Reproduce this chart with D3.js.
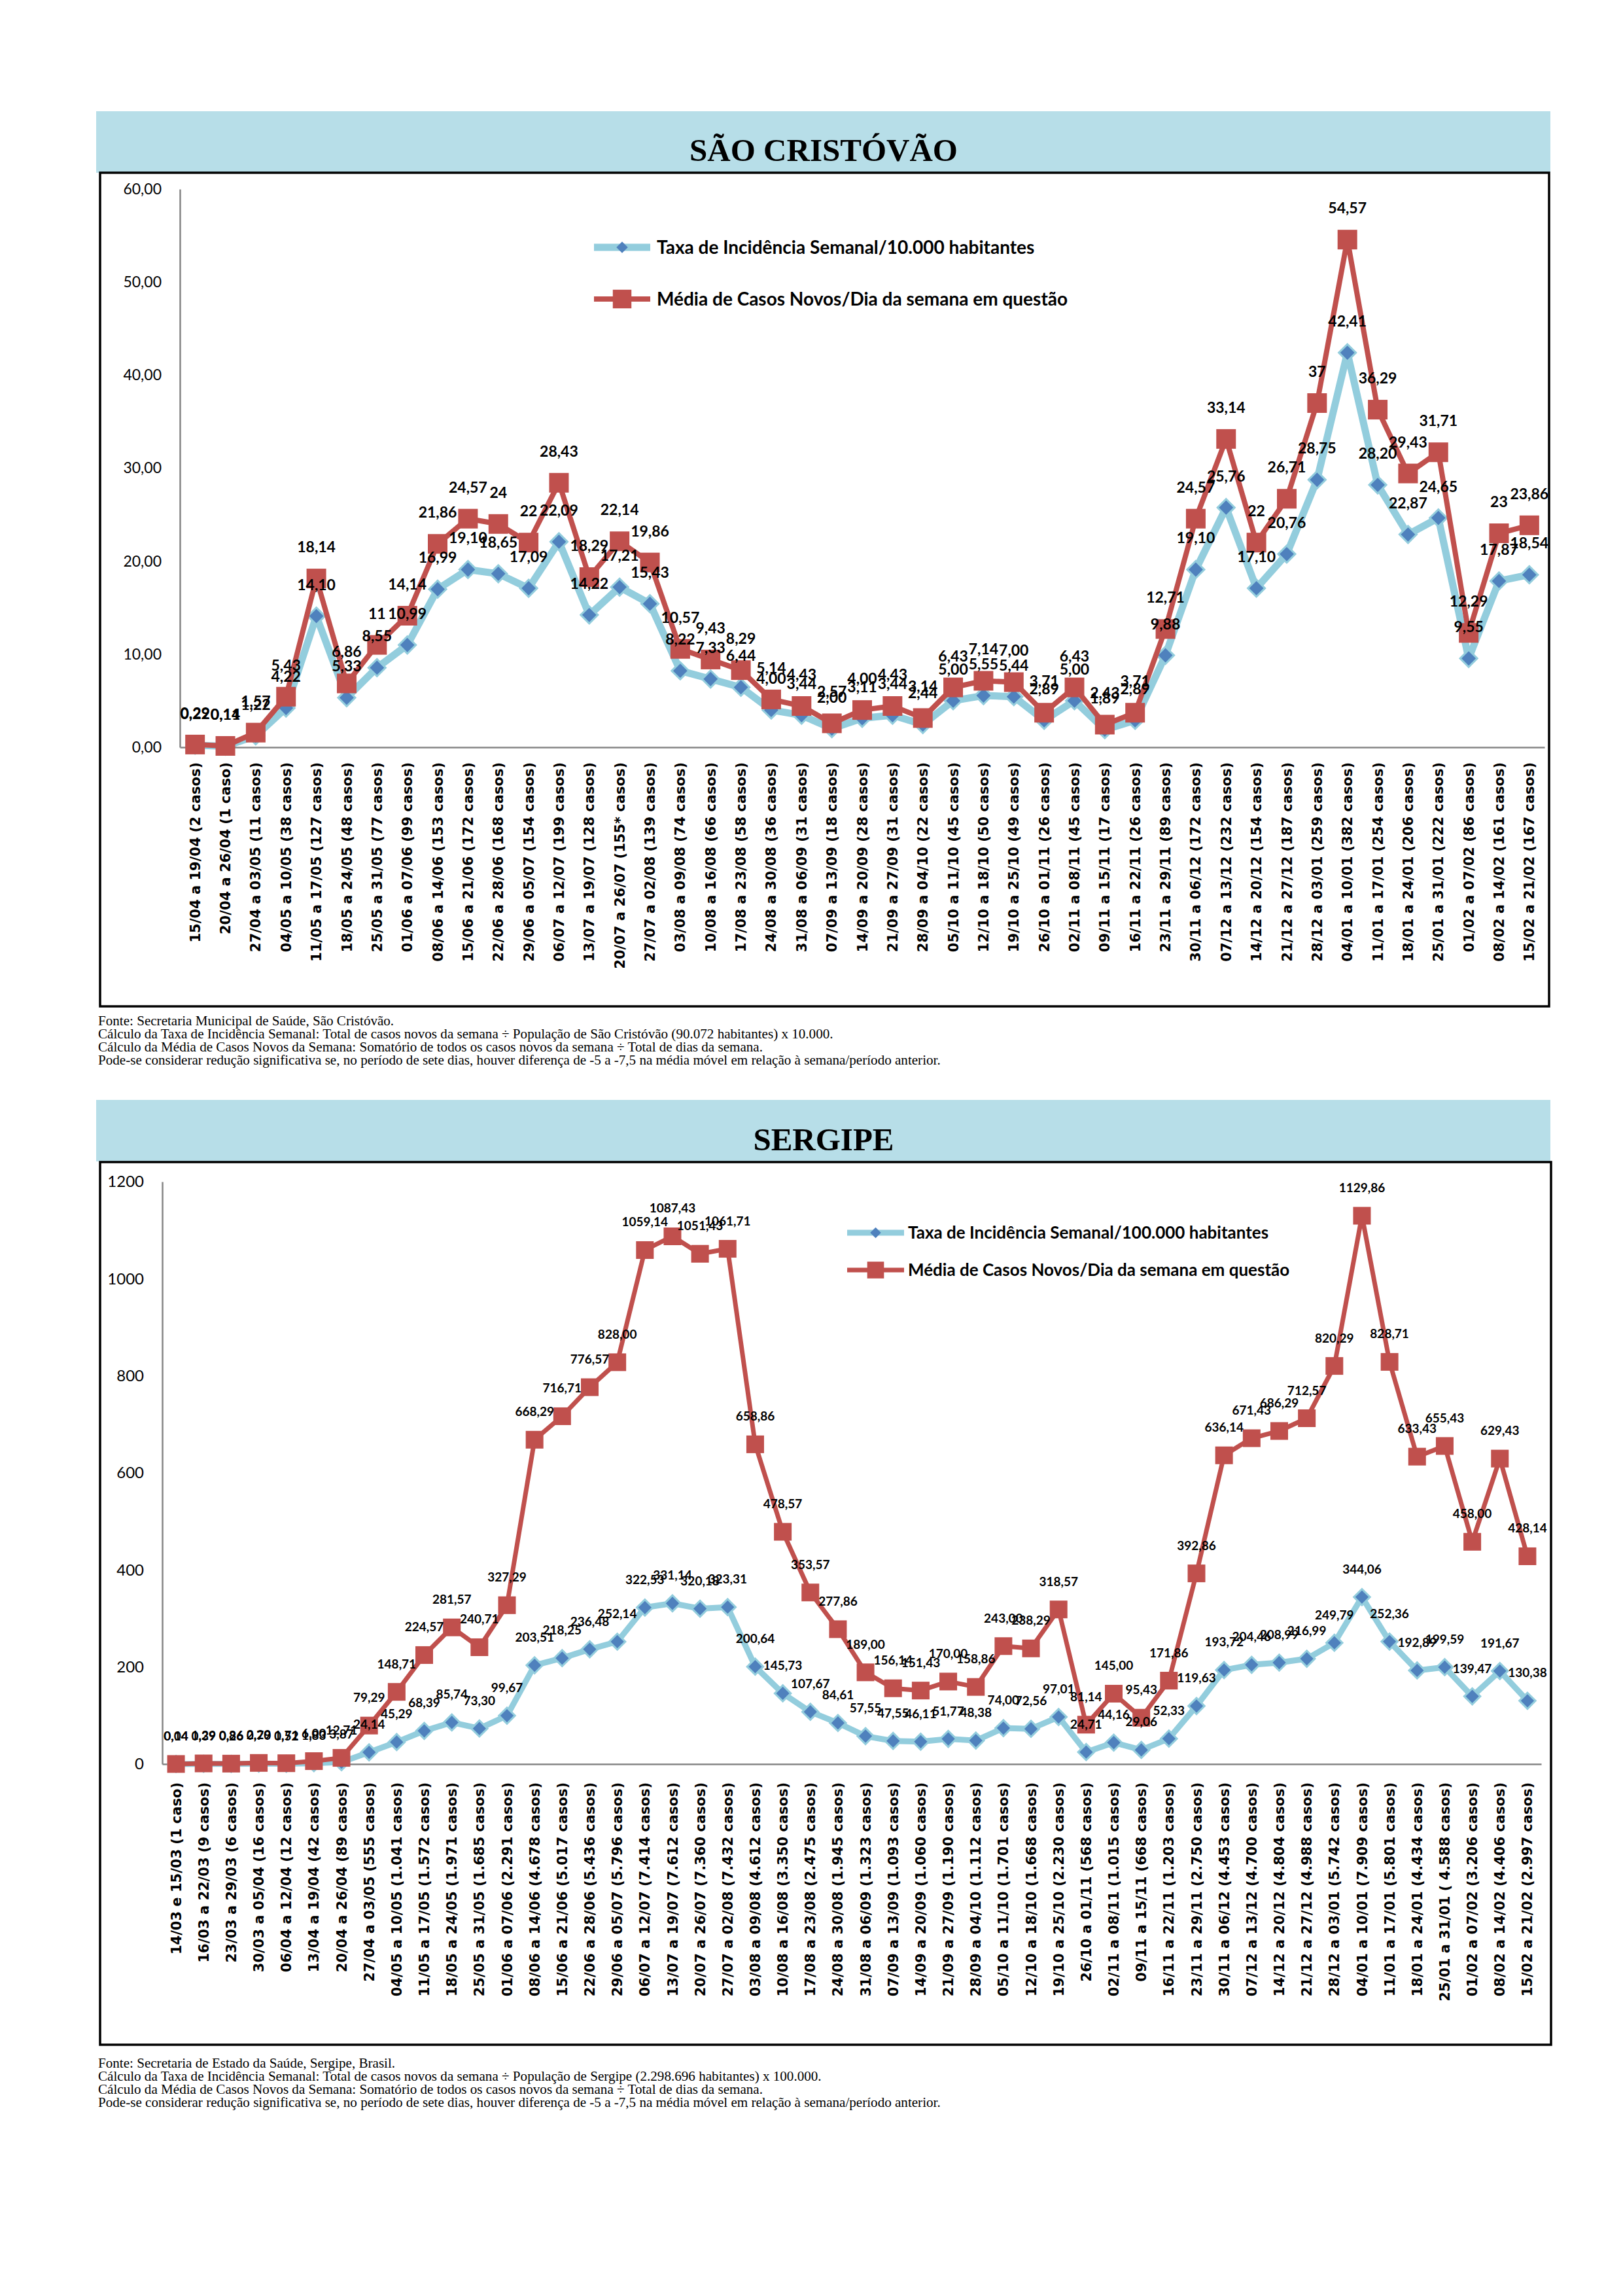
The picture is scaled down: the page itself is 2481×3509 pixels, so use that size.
<!DOCTYPE html>
<html>
<head>
<meta charset="utf-8">
<script src="https://cdnjs.cloudflare.com/ajax/libs/d3/7.8.5/d3.min.js"></script>
<style>
  html, body { margin: 0; padding: 0; background: #fff; }
</style>
</head>
<body>
<div class="container"></div>
<script>
// ---- São Cristóvão ----
const catSC = ["15/04 a 19/04 (2 casos)", "20/04 a 26/04 (1 caso)", "27/04 a 03/05 (11 casos)", "04/05 a 10/05 (38 casos)",
  "11/05 a 17/05 (127 casos)", "18/05 a 24/05 (48 casos)", "25/05 a 31/05 (77 casos)", "01/06 a 07/06 (99 casos)",
  "08/06 a 14/06 (153 casos)", "15/06 a 21/06 (172 casos)", "22/06 a 28/06 (168 casos)", "29/06 a 05/07 (154 casos)",
  "06/07 a 12/07 (199 casos)", "13/07 a 19/07 (128 casos)", "20/07 a 26/07 (155* casos)", "27/07 a 02/08 (139 casos)",
  "03/08 a 09/08 (74 casos)", "10/08 a 16/08 (66 casos)", "17/08 a 23/08 (58 casos)", "24/08 a 30/08 (36 casos)",
  "31/08 a 06/09 (31 casos)", "07/09 a 13/09 (18 casos)", "14/09 a 20/09 (28 casos)", "21/09 a 27/09 (31 casos)",
  "28/09 a 04/10 (22 casos)", "05/10 a 11/10 (45 casos)", "12/10 a 18/10 (50 casos)", "19/10 a 25/10 (49 casos)",
  "26/10 a 01/11 (26 casos)", "02/11 a 08/11 (45 casos)", "09/11 a 15/11 (17 casos)", "16/11 a 22/11 (26 casos)",
  "23/11 a 29/11 (89 casos)", "30/11 a 06/12 (172 casos)", "07/12 a 13/12 (232 casos)", "14/12 a 20/12 (154 casos)",
  "21/12 a 27/12 (187 casos)", "28/12 a 03/01 (259 casos)", "04/01 a 10/01 (382 casos)", "11/01 a 17/01 (254 casos)",
  "18/01 a 24/01 (206 casos)", "25/01 a 31/01 (222 casos)", "01/02 a 07/02 (86 casos)", "08/02 a 14/02 (161 casos)",
  "15/02 a 21/02 (167 casos)"];
const taxaSC = [0.22, 0.11, 1.22, 4.22, 14.10, 5.33, 8.55, 10.99, 16.99, 19.10, 18.65, 17.09, 22.09, 14.22, 17.21, 15.43,
  8.22, 7.33, 6.44, 4.00, 3.44, 2.00, 3.11, 3.44, 2.44, 5.00, 5.55, 5.44, 2.89, 5.00, 1.89, 2.89, 9.88, 19.10, 25.76,
  17.10, 20.76, 28.75, 42.41, 28.20, 22.87, 24.65, 9.55, 17.87, 18.54];
// rótulos como aparecem no gráfico (alguns sem casas decimais)
const mediaSC = ["0,29", "0,14", "1,57", "5,43", "18,14", "6,86", "11", "14,14", "21,86", "24,57", "24", "22", "28,43",
  "18,29", "22,14", "19,86", "10,57", "9,43", "8,29", "5,14", "4,43", "2,57", "4,00", "4,43", "3,14", "6,43", "7,14",
  "7,00", "3,71", "6,43", "2,43", "3,71", "12,71", "24,57", "33,14", "22", "26,71", "37", "54,57", "36,29", "29,43",
  "31,71", "12,29", "23", "23,86"];
const ticksSC = [0, 10, 20, 30, 40, 50, 60];

// ---- Sergipe ----
const catSE = ["14/03 e 15/03 (1 caso)", "16/03 a 22/03 (9 casos)", "23/03 a 29/03 (6 casos)", "30/03 a 05/04 (16 casos)",
  "06/04 a 12/04 (12 casos)", "13/04 a 19/04 (42 casos)", "20/04 a 26/04 (89 casos)", "27/04 a 03/05 (555 casos)",
  "04/05 a 10/05 (1.041 casos)", "11/05 a 17/05 (1.572 casos)", "18/05 a 24/05 (1.971 casos)", "25/05 a 31/05 (1.685 casos)",
  "01/06 a 07/06 (2.291 casos)", "08/06 a 14/06 (4.678 casos)", "15/06 a 21/06 (5.017 casos)", "22/06 a 28/06 (5.436 casos)",
  "29/06 a 05/07 (5.796 casos)", "06/07 a 12/07 (7.414 casos)", "13/07 a 19/07 (7.612 casos)", "20/07 a 26/07 (7.360 casos)",
  "27/07 a 02/08 (7.432 casos)", "03/08 a 09/08 (4.612 casos)", "10/08 a 16/08 (3.350 casos)", "17/08 a 23/08 (2.475 casos)",
  "24/08 a 30/08 (1.945 casos)", "31/08 a 06/09 (1.323 casos)", "07/09 a 13/09 (1.093 casos)", "14/09 a 20/09 (1.060 casos)",
  "21/09 a 27/09 (1.190 casos)", "28/09 a 04/10 (1.112 casos)", "05/10 a 11/10 (1.701 casos)", "12/10 a 18/10 (1.668 casos)",
  "19/10 a 25/10 (2.230 casos)", "26/10 a 01/11 (568 casos)", "02/11 a 08/11 (1.015 casos)", "09/11 a 15/11 (668 casos)",
  "16/11 a 22/11 (1.203 casos)", "23/11 a 29/11 (2.750 casos)", "30/11 a 06/12 (4.453 casos)", "07/12 a 13/12 (4.700 casos)",
  "14/12 a 20/12 (4.804 casos)", "21/12 a 27/12 (4.988 casos)", "28/12 a 03/01 (5.742 casos)", "04/01 a 10/01 (7.909 casos)",
  "11/01 a 17/01 (5.801 casos)", "18/01 a 24/01 (4.434 casos)", "25/01 a 31/01 ( 4.588 casos)", "01/02 a 07/02 (3.206 casos)",
  "08/02 a 14/02 (4.406 casos)", "15/02 a 21/02 (2.997 casos)"];
const taxaSE = [0.04, 0.39, 0.26, 0.70, 0.52, 1.83, 3.87, 24.14, 45.29, 68.39, 85.74, 73.30, 99.67, 203.51, 218.25, 236.48,
  252.14, 322.53, 331.14, 320.18, 323.31, 200.64, 145.73, 107.67, 84.61, 57.55, 47.55, 46.11, 51.77, 48.38, 74.00, 72.56,
  97.01, 24.71, 44.16, 29.06, 52.33, 119.63, 193.72, 204.46, 208.99, 216.99, 249.79, 344.06, 252.36, 192.89, 199.59,
  139.47, 191.67, 130.38];
const mediaSE = [0.14, 1.29, 0.86, 2.29, 1.71, 6.00, 12.71, 79.29, 148.71, 224.57, 281.57, 240.71, 327.29, 668.29, 716.71,
  776.57, 828.00, 1059.14, 1087.43, 1051.43, 1061.71, 658.86, 478.57, 353.57, 277.86, 189.00, 156.14, 151.43, 170.00,
  158.86, 243.00, 238.29, 318.57, 81.14, 145.00, 95.43, 171.86, 392.86, 636.14, 671.43, 686.29, 712.57, 820.29, 1129.86,
  828.71, 633.43, 655.43, 458.00, 629.43, 428.14];
const ticksSE = [0, 200, 400, 600, 800, 1000, 1200];

const notasSC = ["Fonte: Secretaria Municipal de Saúde, São Cristóvão.",
  "Cálculo da Taxa de Incidência Semanal: Total de casos novos da semana ÷ População de São Cristóvão (90.072 habitantes) x 10.000.",
  "Cálculo da Média de Casos Novos da Semana: Somatório de todos os casos novos da semana ÷ Total de dias da semana.",
  "Pode-se considerar redução significativa se, no período de sete dias, houver diferença de -5 a -7,5 na média móvel em relação à semana/período anterior."];
const notasSE = ["Fonte: Secretaria de Estado da Saúde, Sergipe, Brasil.",
  "Cálculo da Taxa de Incidência Semanal: Total de casos novos da semana ÷ População de Sergipe (2.298.696 habitantes) x 100.000.",
  "Cálculo da Média de Casos Novos da Semana: Somatório de todos os casos novos da semana ÷ Total de dias da semana.",
  "Pode-se considerar redução significativa se, no período de sete dias, houver diferença de -5 a -7,5 na média móvel em relação à semana/período anterior."];

const width = 2481, height = 3509;
const AZUL_LINHA = "#93cddd", AZUL = "#4f81bd", VERMELHO = "#c0504d";
const CALIBRI = "Lato, 'Open Sans', sans-serif";

const ptBR = d3.formatLocale({ decimal: ",", thousands: ".", grouping: [3], currency: ["R$ ", ""] });
const f2 = ptBR.format(".2f");
const lerNum = s => +s.replace(",", ".");

let svg = d3.select(".container")
  .append("svg")
  .attr("width", width)
  .attr("height", height)
  .attr("viewBox", [0, 0, width, height])
  .style("display", "block");

svg.append("rect").attr("width", width).attr("height", height).attr("fill", "#fff");

function painel(c) {
  const g = svg.append("g");

  // faixa do título
  g.append("rect").attr("x", 147).attr("y", c.faixa[0])
    .attr("width", 2223).attr("height", c.faixa[1] - c.faixa[0]).attr("fill", "#b7dee8");
  g.append("text").attr("x", 1259).attr("y", c.tituloY).attr("text-anchor", "middle")
    .attr("font-family", "'Liberation Serif', 'Times New Roman', serif")
    .attr("font-weight", "bold").attr("font-size", 49).text(c.titulo);

  // caixa do gráfico
  g.append("rect").attr("x", 153).attr("y", c.caixa[0])
    .attr("width", c.caixa[2] - 153).attr("height", c.caixa[1] - c.caixa[0])
    .attr("fill", "none").attr("stroke", "#000").attr("stroke-width", 3.5);

  let x = d3.scaleBand().domain(c.cats).range(c.xr).padding(0);
  let y = d3.scaleLinear().domain([0, c.yticks[c.yticks.length - 1]]).range(c.yr);
  const cx = i => x(c.cats[i]) + x.bandwidth() / 2;

  const ya = g.append("g").attr("transform", `translate(${c.xr[0]},0)`)
    .call(d3.axisLeft(y).tickValues(c.yticks).tickSize(0).tickSizeOuter(0).tickPadding(28).tickFormat(c.yfmt));
  ya.select(".domain").attr("stroke", "#868686").attr("stroke-width", 2.5);
  ya.selectAll("text").attr("font-family", CALIBRI).attr("font-size", c.yfs).attr("fill", "#000");

  const xa = g.append("g").attr("transform", `translate(0,${c.yr[0]})`)
    .call(d3.axisBottom(x).tickSize(0).tickSizeOuter(0));
  xa.select(".domain").attr("stroke", "#868686").attr("stroke-width", 2.5);
  xa.selectAll("text")
    .attr("transform", "rotate(-90)")
    .attr("x", -c.xpad).attr("y", 0).attr("dy", "0.36em")
    .attr("text-anchor", "end")
    .attr("font-family", "'DejaVu Sans', Verdana, sans-serif")
    .attr("font-weight", "bold").attr("font-size", 21).attr("fill", "#000");

  const linha = d3.line().x((d, i) => cx(i)).y(d => y(d));
  const losango = d3.symbol(d3.symbolSquare, c.losango)();
  const quadrado = d3.symbol(d3.symbolSquare, c.quadrado)();

  // série azul
  g.append("path").attr("d", linha(c.taxa)).attr("fill", "none")
    .attr("stroke", AZUL_LINHA).attr("stroke-width", c.lwAzul).attr("stroke-linejoin", "round");
  g.append("g").selectAll("path").data(c.taxa).join("path")
    .attr("transform", (d, i) => `translate(${cx(i)},${y(d)}) rotate(45)`)
    .attr("d", losango).attr("fill", AZUL).attr("stroke", AZUL_LINHA).attr("stroke-width", 3);

  // série vermelha
  g.append("path").attr("d", linha(c.media)).attr("fill", "none")
    .attr("stroke", VERMELHO).attr("stroke-width", c.lwVerm).attr("stroke-linejoin", "round");
  g.append("g").selectAll("path").data(c.media).join("path")
    .attr("transform", (d, i) => `translate(${cx(i)},${y(d)})`)
    .attr("d", quadrado).attr("fill", VERMELHO);

  // rótulos de dados
  const rot = (vals, textos) => g.append("g").selectAll("text").data(vals).join("text")
    .attr("x", (d, i) => cx(i)).attr("y", d => y(d) - c.rotOff)
    .attr("text-anchor", "middle").attr("font-family", CALIBRI).attr("font-weight", "bold")
    .attr("font-size", c.rotFs).attr("fill", "#000")
    .text((d, i) => textos[i]);
  rot(c.taxa, c.taxa.map(f2));
  rot(c.media, c.mediaRot);

  // legenda
  const leg = g.append("g");
  c.legenda.forEach((texto, k) => {
    const ly = c.leg.y[k];
    leg.append("line").attr("x1", c.leg.x0).attr("x2", c.leg.x1).attr("y1", ly).attr("y2", ly)
      .attr("stroke", k === 0 ? AZUL_LINHA : VERMELHO).attr("stroke-width", k === 0 ? c.lwAzul : c.lwVerm);
    leg.append("path")
      .attr("transform", `translate(${(c.leg.x0 + c.leg.x1) / 2},${ly})` + (k === 0 ? " rotate(45)" : ""))
      .attr("d", k === 0 ? d3.symbol(d3.symbolSquare, c.losango * 0.45)() : d3.symbol(d3.symbolSquare, c.quadrado * 0.9)())
      .attr("fill", k === 0 ? AZUL : VERMELHO);
    leg.append("text").attr("x", c.leg.xt).attr("y", ly).attr("dy", "0.35em")
      .attr("font-family", CALIBRI).attr("font-weight", "bold").attr("font-size", c.leg.fs)
      .attr("fill", "#000").text(texto);
  });

  // notas
  const nota = g.append("g").attr("transform", "translate(150,0) scale(1.055,1)");
  c.notas.forEach((t, i) => nota.append("text").attr("x", 0).attr("y", c.notaY + i * 20)
    .attr("font-family", "'Liberation Serif', 'Times New Roman', serif").attr("font-size", 20)
    .attr("fill", "#000").text(t));
}

painel({
  titulo: "SÃO CRISTÓVÃO", faixa: [170, 264], tituloY: 246, caixa: [264, 1538, 2368],
  cats: catSC, taxa: taxaSC, media: mediaSC.map(lerNum), mediaRot: mediaSC,
  xr: [275, 2361], yr: [1142, 289], yticks: ticksSC, yfmt: f2, yfs: 23, xpad: 23,
  lwAzul: 11, lwVerm: 8, losango: 340, quadrado: 900, rotOff: 40, rotFs: 23,
  legenda: ["Taxa de Incidência Semanal/10.000 habitantes", "Média de Casos Novos/Dia da semana em questão"],
  leg: { x0: 908, x1: 994, xt: 1004, y: [378, 457], fs: 28 },
  notas: notasSC, notaY: 1567
});

painel({
  titulo: "SERGIPE", faixa: [1681, 1775], tituloY: 1758, caixa: [1776, 3125, 2371],
  cats: catSE, taxa: taxaSE, media: mediaSE, mediaRot: mediaSE.map(f2),
  xr: [248, 2356], yr: [2696, 1806], yticks: ticksSE, yfmt: d3.format("d"), yfs: 24, xpad: 28,
  lwAzul: 9, lwVerm: 7, losango: 300, quadrado: 730, rotOff: 36, rotFs: 19,
  legenda: ["Taxa de Incidência Semanal/100.000 habitantes", "Média de Casos Novos/Dia da semana em questão"],
  leg: { x0: 1295, x1: 1382, xt: 1388, y: [1884, 1941], fs: 26 },
  notas: notasSE, notaY: 3160
});
</script>
</body>
</html>
